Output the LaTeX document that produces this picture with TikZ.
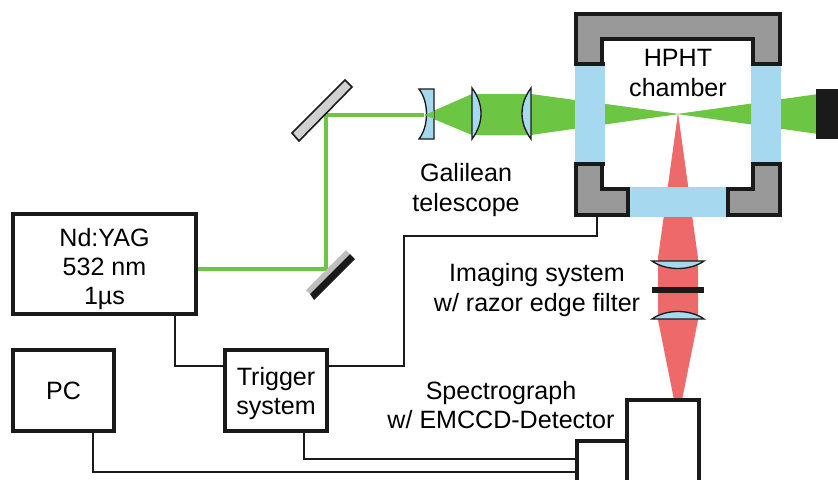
\documentclass[tikz,border=0pt]{standalone}
\usepackage{fontspec}
\setmainfont{Liberation Sans}
\definecolor{beamgreen}{HTML}{6CC644}
\definecolor{beamred}{HTML}{EE6A6A}
\definecolor{glassblue}{HTML}{A6D9F0}
\definecolor{wallgray}{HTML}{999999}
\definecolor{darkblack}{HTML}{1A1A1A}
\tikzset{
  devicebox/.style={draw=darkblack,fill=white,line width=2.3pt,outer sep=0pt,inner sep=0pt,align=center,font=\fontsize{18.8}{22}\selectfont},
  plainlabel/.style={inner sep=0pt,align=center,font=\fontsize{18.8}{22}\selectfont},
  wirepath/.style={draw=darkblack,line width=0.9pt},
  lensglass/.style={draw=darkblack,fill=glassblue,line width=1pt},
  wallpart/.style={draw=darkblack,fill=wallgray,line width=2.3pt},
}
\begin{document}
\begin{tikzpicture}[x=0.75pt,y=0.75pt,yscale=-1,xscale=1]
\clip (0,0) rectangle (838,479);

%Beams
\fill [beamgreen] (424,115) -- (472,94) -- (531,94) -- (678,114) -- (531,135) -- (472,135) -- cycle ;
\fill [beamgreen] (678,114) -- (818,94) -- (818,134) -- cycle ;
\fill [beamred] (678,114) -- (658,258) -- (658,320) -- (674,400) -- (682,400) -- (698,320) -- (698,258) -- cycle ;
\draw [draw=beamgreen,line width=3pt] (196,269) -- (326,269) -- (326,115) -- (424,115) ;

%Mirrors
\draw [draw=darkblack,fill=black!18,line width=1.2pt] (345,80) -- (352,87) -- (299,141) -- (292,133) -- cycle ;
\fill [black!25] (346,250) -- (350,254) -- (310,294) -- (306,290) -- cycle ;
\fill [darkblack] (350,254) -- (355,259) -- (314,300) -- (310,294) -- cycle ;

%Telescope lenses
\draw [lensglass] (419,89) -- (434,89) -- (434,139) -- (419,139) .. controls (429,126) and (429,102) .. (419,89) -- cycle ;
\draw [lensglass] (472,88) .. controls (484,104) and (484,123) .. (472,139) -- cycle ;
\draw [lensglass] (531,88) .. controls (519,104) and (519,123) .. (531,139) -- cycle ;
\fill [beamgreen] (425,115) -- (434,111) -- (434,119) -- cycle ;

%Chamber
\draw [wallpart] (576,64) -- (576,14) -- (780,14) -- (780,64) -- (753,64) -- (753,39) -- (602,39) -- (602,64) -- cycle ;
\draw [wallpart] (576,164) -- (602,164) -- (602,189) -- (628,189) -- (628,215) -- (576,215) -- cycle ;
\draw [wallpart] (780,164) -- (753,164) -- (753,189) -- (728,189) -- (728,215) -- (780,215) -- cycle ;
\fill [glassblue] (575,65) rectangle (605,163) ;
\fill [glassblue] (751,65) rectangle (781,163) ;
\fill [glassblue] (628,187) rectangle (728,217) ;
\draw [darkblack,line width=2.3pt] (628,187) -- (628,217) (728,187) -- (728,217) ;
\draw [darkblack,line width=2.3pt] (575,64) -- (605,64) (751,64) -- (781,64) (575,164) -- (605,164) (751,164) -- (781,164) ;

%Green and red cones seen through the windows
\fill [beamred] (678,114) -- (668,187) -- (688,187) -- cycle ;
\fill [beamgreen] (605,104) -- (678,114) -- (605,124) -- cycle ;
\fill [beamgreen] (751,104) -- (678,114) -- (751,124) -- cycle ;

%Beam dump
\fill [darkblack] (816,89) rectangle (838,139) ;

%Imaging lenses and filter
\draw [lensglass] (652,261) -- (704,261) .. controls (690,271) and (666,271) .. (652,261) -- cycle ;
\draw [lensglass] (652,319) -- (704,319) .. controls (690,309) and (666,309) .. (652,319) -- cycle ;
\fill [darkblack] (652,287) rectangle (704,293) ;

%Boxes
\node [devicebox,minimum width=137.25pt,minimum height=75pt] (yag) at (104.5,264) {\rule{0pt}{21pt}Nd:YAG\\532 nm\\1µs};
\node [devicebox,minimum width=75.75pt,minimum height=60.75pt] (pc) at (63.5,390.5) {PC};
\node [devicebox,minimum width=76.5pt,minimum height=60.75pt] (trigger) at (276,390.5) {\rule{0pt}{18pt}Trigger\\system};
\node [devicebox,minimum width=54pt,minimum height=75pt] (spectro) at (663,450) {};
\node [devicebox,minimum width=37.5pt,minimum height=45pt] (camera) at (602,471) {};

%Labels
\node [plainlabel] (hpht) at (678,73) {HPHT\\chamber};
\node [plainlabel] (galilean) at (466,190) {Galilean\\telescope};
\node [plainlabel] (imaging) at (537,290) {Imaging system\\w/ razor edge filter};
\node [plainlabel] (spectrolabel) at (501,405) {Spectrograph\\w/ EMCCD-Detector};

%Wires
\coordinate (chamberport) at (597,215);
\draw [wirepath] (yag.south -| 175,0) -- (175,366) -- (trigger.west |- 0,366) ;
\draw [wirepath] (trigger.east |- 0,366) -- (404,366) -- (404,236) -- (597,236) -- (chamberport) ;
\draw [wirepath] (trigger.south -| 304,0) -- (304,459) -- (camera.west |- 0,459) ;
\draw [wirepath] (pc.south -| 93,0) -- (93,472) -- (camera.west |- 0,472) ;

\end{tikzpicture}
\end{document}
